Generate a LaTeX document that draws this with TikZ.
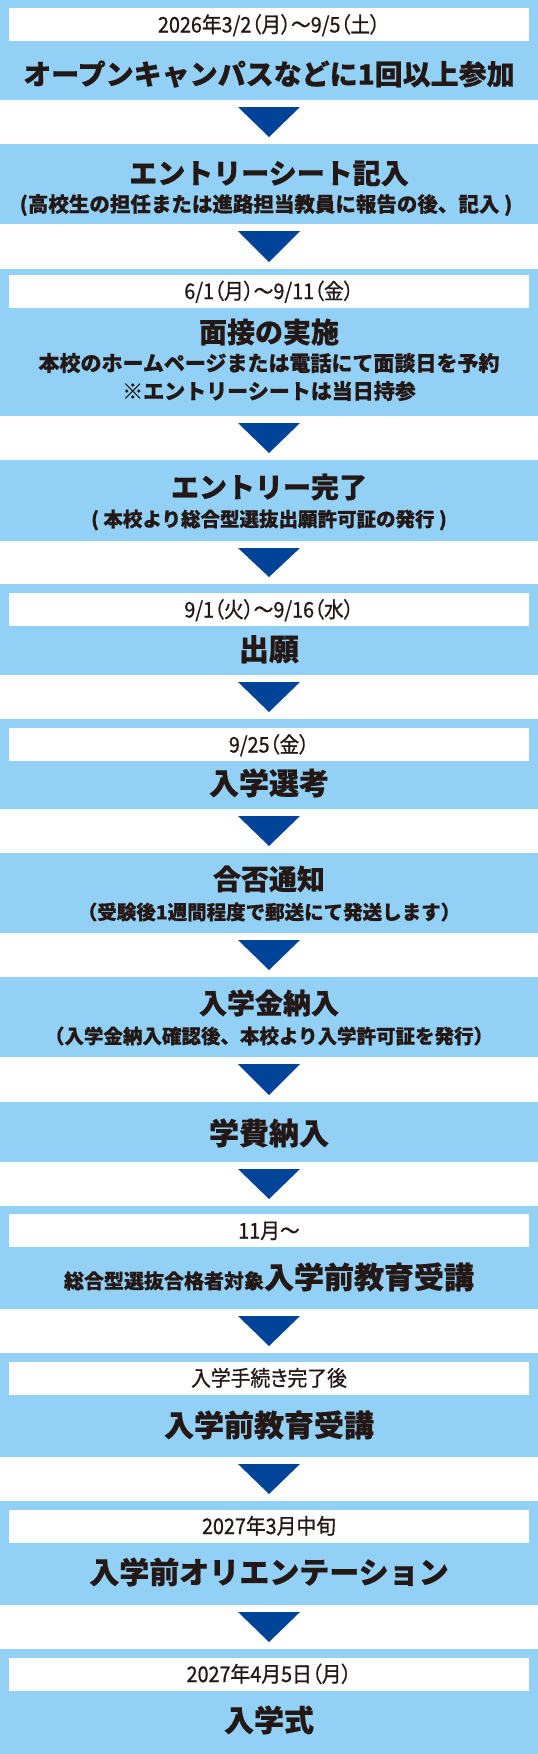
\documentclass[tikz,border=0pt]{standalone}
\usepackage{fontspec}
\setmainfont{Noto Sans CJK JP}[BoldFeatures={FakeBold=0.5}]
\newfontfamily\datefont{Noto Sans CJK JP}[FakeStretch=0.92, RawFeature=+palt, FakeBold=0.8]
\usetikzlibrary{calc}
\definecolor{boxblue}{HTML}{92D0F5}
\definecolor{arrowblue}{HTML}{00449A}
\definecolor{ink}{HTML}{231815}
\tikzset{
  stagebox/.style={fill=boxblue, draw=none, inner sep=0pt, outer sep=0pt, minimum width=538pt, anchor=north west},
  datestrip/.style={fill=white, draw=none, inner sep=0pt, outer sep=0pt, minimum width=520pt, minimum height=33pt, text height=16pt, text depth=0pt, font=\datefont\fontsize{21.5pt}{21.5pt}\selectfont, text=ink},
  txt/.style={font=\bfseries\fontsize{#1pt}{#1pt}\selectfont, anchor=base, yshift={-0.38*#1pt}, inner sep=0pt, outer sep=0pt, text=ink},
  flowtri/.style={fill=arrowblue, draw=none}
}
\newcommand\flowarrow[2]{\fill[flowtri] ($(#1.south)+(-31,7)$) -- ($(#1.south)+(31,7)$) -- ($(#2.north)+(0,-7)$) -- cycle;}
\begin{document}
\begin{tikzpicture}[x=1pt,y=-1pt]
\useasboundingbox (0,0) rectangle (538,1754);
% boxes
\node[stagebox, minimum height=100pt] (b1) at (0,0) {};
\node[stagebox, minimum height=80pt] (b2) at (0,144) {};
\node[stagebox, minimum height=147pt] (b3) at (0,269) {};
\node[stagebox, minimum height=81pt] (b4) at (0,460) {};
\node[stagebox, minimum height=91pt] (b5) at (0,584) {};
\node[stagebox, minimum height=90pt] (b6) at (0,719) {};
\node[stagebox, minimum height=80pt] (b7) at (0,853) {};
\node[stagebox, minimum height=80pt] (b8) at (0,977) {};
\node[stagebox, minimum height=60pt] (b9) at (0,1102) {};
\node[stagebox, minimum height=103pt] (b10) at (0,1206) {};
\node[stagebox, minimum height=104pt] (b11) at (0,1353) {};
\node[stagebox, minimum height=104pt] (b12) at (0,1501) {};
\node[stagebox, minimum height=105pt] (b13) at (0,1649) {};
% arrows
\flowarrow{b1}{b2}
\flowarrow{b2}{b3}
\flowarrow{b3}{b4}
\flowarrow{b4}{b5}
\flowarrow{b5}{b6}
\flowarrow{b6}{b7}
\flowarrow{b7}{b8}
\flowarrow{b8}{b9}
\flowarrow{b9}{b10}
\flowarrow{b10}{b11}
\flowarrow{b11}{b12}
\flowarrow{b12}{b13}
% box 1
\node[datestrip] (d1) at (269,24.5) {2026年3/2（月）～9/5（土）};
\node[txt=28] (t1) at (269,74) {オープンキャンパスなどに1回以上参加};
% box 2
\node[txt=28] (t2) at (269,173) {エントリーシート記入};
\node[txt=20.5] (s2) at (266,204) {(高校生の担任または進路担当教員に報告の後、記入 )};
% box 3
\node[datestrip] (d3) at (269,291) {6/1（月）～9/11（金）};
\node[txt=28] (t3) at (269,332) {面接の実施};
\node[txt=21] (s3a) at (269,363) {本校のホームページまたは電話にて面談日を予約};
\node[txt=21] (s3b) at (269,391) {※エントリーシートは当日持参};
% box 4
\node[txt=28] (t4) at (269,487) {エントリー完了};
\node[txt=19.5] (s4) at (269,519) {( 本校より総合型選抜出願許可証の発行 )};
% box 5
\node[datestrip] (d5) at (269,609.5) {9/1（火）～9/16（水）};
\node[txt=30] (t5) at (269,649) {出願};
% box 6
\node[datestrip] (d6) at (269,744.5) {9/25（金）};
\node[txt=30] (t6) at (269,783) {入学選考};
% box 7
\node[txt=28] (t7) at (269,879) {合否通知};
\node[txt=19.5] (s7) at (269,912) {（受験後1週間程度で郵送にて発送します）};
% box 8
\node[txt=28] (t8) at (269,1003) {入学金納入};
\node[txt=19.5] (s8) at (269,1036) {（入学金納入確認後、本校より入学許可証を発行）};
% box 9
\node[txt=30] (t9) at (269,1133) {学費納入};
% box 10
\node[datestrip] (d10) at (269,1230.5) {11月～};
\node[txt=30] (t10) at (269,1277) {{\fontsize{20pt}{20pt}\selectfont 総合型選抜合格者対象}入学前教育受講};
% box 11
\node[datestrip] (d11) at (269,1378) {入学手続き完了後};
\node[txt=30] (t11) at (269,1425) {入学前教育受講};
% box 12
\node[datestrip] (d12) at (269,1526) {2027年3月中旬};
\node[txt=30] (t12) at (269,1572) {入学前オリエンテーション};
% box 13
\node[datestrip] (d13) at (269,1674) {2027年4月5日（月）};
\node[txt=30] (t13) at (269,1720) {入学式};
\end{tikzpicture}
\end{document}
